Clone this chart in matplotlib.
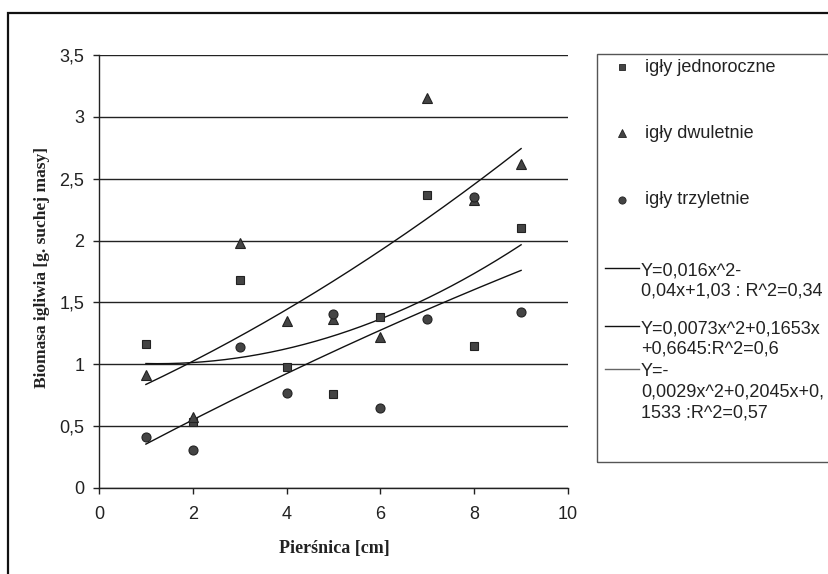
import numpy as np
import matplotlib.pyplot as plt
from matplotlib.lines import Line2D
from matplotlib.patches import Rectangle

# pierśnica [cm]
piersnica = [1, 2, 3, 4, 5, 6, 7, 8, 9]

# biomasa igliwia [g suchej masy] dla kolejnych roczników igieł
igly_1 = [1.16, 0.53, 1.68, 0.98, 0.76, 1.38, 2.37, 1.15, 2.10]
igly_2 = [0.91, 0.57, 1.98, 1.35, 1.37, 1.22, 3.15, 2.33, 2.62]
igly_3 = [0.41, 0.31, 1.14, 0.77, 1.41, 0.65, 1.37, 2.35, 1.42]

seria_nazwy = ["igły jednoroczne", "igły dwuletnie", "igły trzyletnie"]

# wspolczynniki trendow wielomianowych (a, b, c) -> a*x^2 + b*x + c
trend_wsp = [(0.016, -0.04, 1.03), (0.0073, 0.1653, 0.6645), (-0.0029, 0.2045, 0.1533)]
trend_opisy = ["Y=0,016x^2-\n0,04x+1,03 : R^2=0,34",
               "Y=0,0073x^2+0,1653x\n+0,6645:R^2=0,6",
               "Y=-\n0,0029x^2+0,2045x+0,\n1533 :R^2=0,57"]
trend_kolory = ["#111111", "#111111", "#666666"]

W, H = 829, 574
fig = plt.figure(figsize=(W / 100, H / 100), dpi=100)
sans = ["Liberation Sans", "DejaVu Sans"]
serif = ["Liberation Serif", "DejaVu Serif"]


def fx(px):
    return px / W


def fy(py):
    return 1 - py / H


ax = fig.add_axes([fx(99), fy(488), fx(568) - fx(99), fy(55) - fy(488)])

styl = [("s", 6.0), ("^", 7.0), ("o", 6.5)]
for y, (m, ms) in zip([igly_1, igly_2, igly_3], styl):
    ax.plot(piersnica, y, linestyle="none", marker=m, markersize=ms,
            markerfacecolor="#444444", markeredgecolor="#222222", markeredgewidth=0.8, zorder=3)

xs = np.linspace(1, 9, 200)
for (a, b, c), kol in zip(trend_wsp, trend_kolory):
    ax.plot(xs, a * xs ** 2 + b * xs + c, color="#111111", linewidth=1.0, zorder=2)

ax.set_xlim(0, 10)
ax.set_ylim(0, 3.5)
ax.set_xticks(range(0, 11, 2))
ax.set_yticks(np.arange(0, 3.51, 0.5))
ax.set_yticklabels([("%g" % v).replace(".", ",") for v in np.arange(0, 3.51, 0.5)])
ax.yaxis.grid(True, color="#222222", linewidth=1.0)
ax.set_axisbelow(True)
for s in ["top", "right"]:
    ax.spines[s].set_visible(False)
for s in ["left", "bottom"]:
    ax.spines[s].set_color("#222222")
    ax.spines[s].set_linewidth(1.0)
ax.tick_params(direction="out", length=4, width=1, color="#222222", labelcolor="#222222")
ax.tick_params(axis="y", pad=6.5)
ax.tick_params(axis="x", pad=9)
for lab in ax.get_xticklabels() + ax.get_yticklabels():
    lab.set_family(sans)
    lab.set_fontsize(13)

fig.text(fx(334), fy(548), "Pierśnica [cm]", family=serif, fontsize=13,
         fontweight="bold", ha="center", va="center", color="#222222")
fig.text(fx(42), fy(267), "Biomasa igliwia [g. suchej masy]", family=serif, fontsize=12.5,
         fontweight="bold", ha="center", va="center", rotation=90, color="#222222")

# ramka wokol calego wykresu
fig.add_artist(Rectangle((fx(8), fy(600)), fx(900), fy(13) - fy(600), transform=fig.transFigure,
                         fill=False, edgecolor="#111111", linewidth=1.6))

# legenda rysowana recznie
fig.add_artist(Rectangle((fx(597), fy(462)), fx(400), fy(54) - fy(462), transform=fig.transFigure,
                         fill=False, edgecolor="#555555", linewidth=1.0))
for nazwa, (m, ms), py in zip(seria_nazwy, styl, [67, 133, 200]):
    fig.add_artist(Line2D([fx(622)], [fy(py)], transform=fig.transFigure, linestyle="none",
                          marker=m, markersize=ms * 0.8, markerfacecolor="#444444",
                          markeredgecolor="#222222", markeredgewidth=0.6))
    fig.text(fx(645), fy(py), nazwa, family=sans, fontsize=13, va="center", color="#222222")

for opis, kol, py in zip(trend_opisy, trend_kolory, [268, 326, 369]):
    fig.add_artist(Line2D([fx(605), fx(639)], [fy(py), fy(py)], transform=fig.transFigure,
                          color=kol, linewidth=1.0))
    fig.text(fx(641), fy(py - 6), opis, family=sans, fontsize=13, va="top", color="#222222",
             linespacing=1.3)

fig.savefig("out.png", dpi=100)
